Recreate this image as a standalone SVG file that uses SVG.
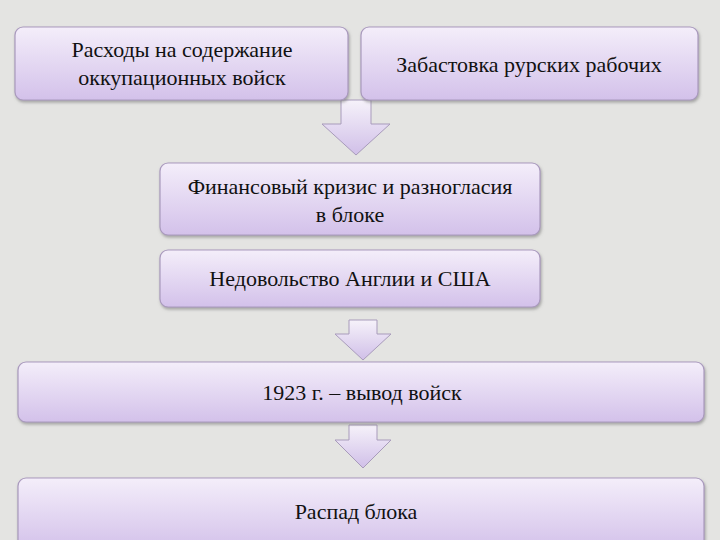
<svg xmlns="http://www.w3.org/2000/svg" width="720" height="540" viewBox="0 0 720 540">
<defs>
<linearGradient id="g" x1="0" y1="0" x2="0" y2="1"><stop offset="0" stop-color="#f4eefa"/><stop offset="1" stop-color="#d3c1ea"/></linearGradient>
<linearGradient id="ga" x1="0" y1="0" x2="0" y2="1"><stop offset="0" stop-color="#f6f2fa"/><stop offset="1" stop-color="#d0bfe8"/></linearGradient>
<filter id="s" x="-5%" y="-10%" width="110%" height="130%"><feDropShadow dx="1" dy="2" stdDeviation="1.5" flood-color="#777" flood-opacity="0.6"/></filter>
</defs>
<style>
.b{fill:url(#g);stroke:#a999bd;stroke-width:1.2;filter:url(#s)}
.a{fill:url(#ga);stroke:#a89bbb;stroke-width:1}
text{font-family:"Liberation Serif",serif;font-size:22px;fill:#111;text-anchor:middle}
</style>
<rect width="720" height="540" fill="#e4e4e2"/>
<g id="connectors">
<path class="a" d="M341,100 H371 V124 H390 L356,155 L322,124 H341 Z"/>
<path class="a" d="M349,320 H377 V334 H391 L363,360 L335,334 H349 Z"/>
<path class="a" d="M349,425 H377 V440 H391 L363,468 L335,440 H349 Z"/>
</g>
<g id="n1"><rect class="b" x="15" y="27" width="333" height="73" rx="8"/><text x="182" y="57">Расходы на содержание</text><text x="182" y="85">оккупационных войск</text></g>
<g id="n2"><rect class="b" x="361" y="27" width="337" height="73" rx="8"/><text x="529" y="72">Забастовка рурских рабочих</text></g>
<g id="n3"><rect class="b" x="160" y="163" width="380" height="72" rx="8"/><text x="350" y="194">Финансовый кризис и разногласия</text><text x="350" y="222">в блоке</text></g>
<g id="n4"><rect class="b" x="160" y="250" width="380" height="57" rx="8"/><text x="350" y="286">Недовольство Англии и США</text></g>
<g id="n5"><rect class="b" x="18" y="362" width="686" height="60" rx="8"/><text x="362" y="400">1923 г. – вывод войск</text></g>
<g id="n6"><rect class="b" x="18" y="478" width="686" height="72" rx="8"/><text x="356" y="519">Распад блока</text></g>
</svg>
